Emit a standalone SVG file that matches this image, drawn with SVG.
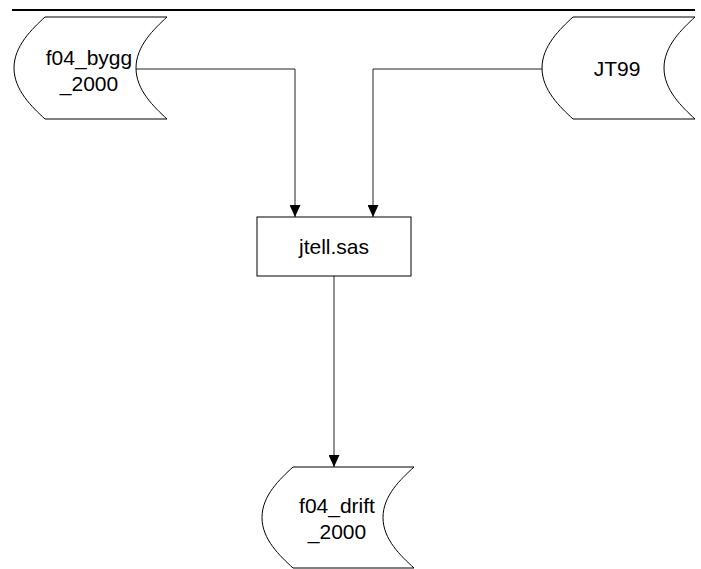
<svg xmlns="http://www.w3.org/2000/svg" width="701" height="569" viewBox="0 0 701 569">
<style>
  .shape { fill: #ffffff; stroke: #000000; stroke-width: 1; }
  .label { font-family: "Liberation Sans", Arial, sans-serif; font-size: 21px; fill: #000000; text-anchor: middle; }
  .conn { fill: none; stroke: #222222; stroke-width: 1; }
</style>
<defs>
  <marker id="arrow" markerUnits="userSpaceOnUse" markerWidth="11" markerHeight="12" viewBox="0 0 11 12" refX="5.5" refY="12" orient="0">
    <path d="M0,0 L11,0 L5.5,12 Z" fill="#000000"/>
  </marker>
</defs>
<rect width="701" height="569" fill="#ffffff"/>
<line x1="12" y1="10" x2="695" y2="10" stroke="#000000" stroke-width="2"/>
<g id="connectors">
  <path class="conn" d="M136,69 H295 V217" marker-end="url(#arrow)"/>
  <path class="conn" d="M542,69 H373 V217" marker-end="url(#arrow)"/>
  <path class="conn" d="M334,276 V467" marker-end="url(#arrow)"/>
</g>
<g id="f04_bygg_2000">
  <path class="shape" d="M45,17 H167 C154,29 136,46 136,68 C136,90 154,107 167,119 H45 C32,107 14,90 14,68 C14,46 32,29 45,17 Z"/>
  <text class="label" x="89" y="65">f04_bygg</text>
  <text class="label" x="89" y="91">_2000</text>
</g>
<g id="JT99">
  <path class="shape" d="M573,17 H695 C682,29 664,46 664,68 C664,90 682,107 695,119 H573 C560,107 542,90 542,68 C542,46 560,29 573,17 Z"/>
  <text class="label" x="617" y="76">JT99</text>
</g>
<g id="jtell">
  <rect class="shape" x="257" y="217" width="154" height="59"/>
  <text class="label" x="334" y="254">jtell.sas</text>
</g>
<g id="f04_drift_2000">
  <path class="shape" d="M293,467 H414 C401,479 383,495.5 383,517.5 C383,539.5 401,556 414,568 H293 C280,556 262,539.5 262,517.5 C262,495.5 280,479 293,467 Z"/>
  <text class="label" x="337" y="513">f04_drift</text>
  <text class="label" x="337" y="539">_2000</text>
</g>
</svg>
